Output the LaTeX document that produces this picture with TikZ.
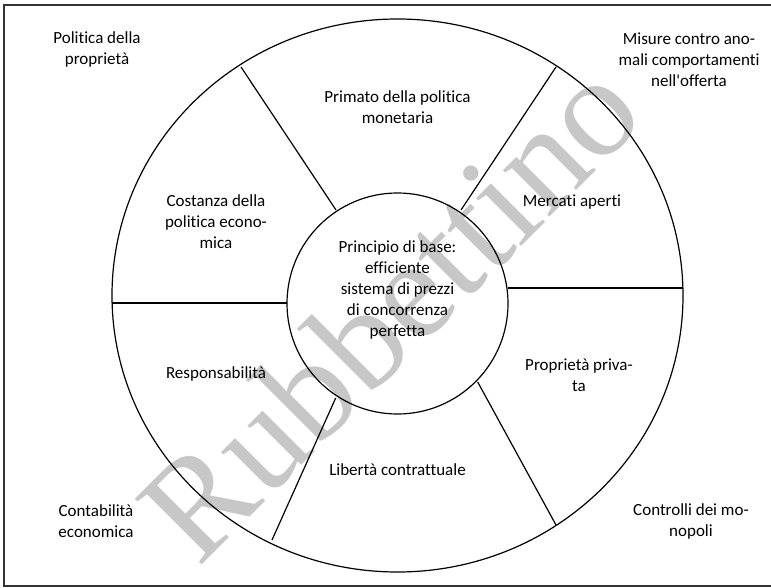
\documentclass[tikz,border=0pt]{standalone}
\usepackage{fontspec}
\setmainfont{Carlito}[Ligatures=NoCommon]
\newfontfamily\wmfont{Liberation Serif}
\usetikzlibrary{shapes.geometric}
\tikzset{
  lbl/.style={align=center, inner sep=0pt, font=\fontsize{17}{21}\selectfont},
  ring/.style={draw=black, line width=1.2pt},
  divider/.style={draw=black, line width=1.2pt},
  frame/.style={draw=black!80, line width=1.8pt}
}
\begin{document}
\begin{tikzpicture}[x=1pt, y=-1pt]
\useasboundingbox (0,0) rectangle (771,588);
\fill[white] (0,0) rectangle (771,588);
% watermark
\node[font=\wmfont\fontsize{143}{143}\selectfont, text=black!22, rotate=45, inner sep=0pt] (wm) at (389,309) {Rubbettino};
% frame (right side lies outside the picture)
\draw[frame] (775,5) -- (4,5) -- (4,586) -- (775,586);
% circles
\node[ring, ellipse, minimum width=571pt, minimum height=553pt, inner sep=0pt] (outer) at (397.5,295.5) {};
\node[ring, circle, minimum size=221pt, inner sep=0pt] (inner) at (397.5,303.5) {};
% divider end points
\coordinate (o1) at (241,67);   \coordinate (i1) at (336,210);
\coordinate (o2) at (556,67);   \coordinate (i2) at (461,210);
\coordinate (o3) at (112.2,303); \coordinate (i3) at (287,303);
\coordinate (o4) at (682.8,288); \coordinate (i4) at (508,288);
\coordinate (o5) at (272,540);  \coordinate (i5) at (335.7,398);
\coordinate (o6) at (556,525);  \coordinate (i6) at (477.7,382);
\draw[divider] (o1) -- (i1);
\draw[divider] (o2) -- (i2);
\draw[divider] (o3) -- (i3);
\draw[divider] (o4) -- (i4);
\draw[divider] (o5) -- (i5);
\draw[divider] (o6) -- (i6);
% labels
\node[lbl] (center) at (397.5,290) {Principio di base:\\efficiente\\sistema di prezzi\\di concorrenza\\perfetta};
\node[lbl] (s1) at (397.5,107) {Primato della politica\\monetaria};
\node[lbl] (s2) at (216,222) {Costanza della\\politica econo-\\mica};
\node[lbl] (s3) at (572,202) {Mercati aperti};
\node[lbl] (s4) at (216,374) {Responsabilità};
\node[lbl] (s5) at (397.5,470) {Libertà contrattuale};
\node[lbl] (s6) at (579,375) {Proprietà priva-\\ta};
\node[lbl] (c1) at (97,49) {Politica della\\proprietà};
\node[lbl] (c2) at (689,60) {Misure contro ano-\\mali comportamenti\\nell\textquotesingle offerta};
\node[lbl] (c3) at (96,521) {Contabilità\\economica};
\node[lbl] (c4) at (691,521) {Controlli dei mo-\\nopoli};
\end{tikzpicture}
\end{document}
